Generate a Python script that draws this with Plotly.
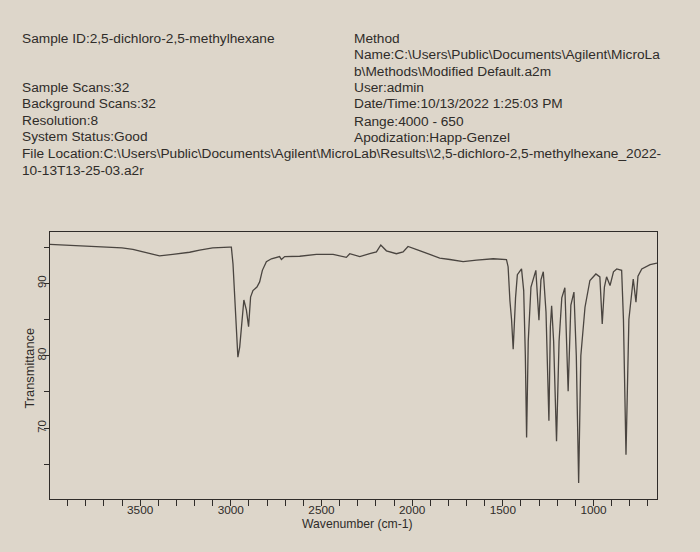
import plotly.graph_objects as go

# Spectrum
wavenumber = [4000, 3900, 3800, 3724, 3651, 3600, 3540, 3448, 3393, 3320, 3227, 3172, 3100, 3007,
              2997, 2988, 2979, 2970, 2961, 2951, 2942, 2928, 2914, 2902, 2891, 2878, 2856, 2841,
              2826, 2804, 2776, 2731, 2721, 2703, 2620, 2528, 2436, 2363, 2344, 2289, 2234, 2197,
              2173, 2142, 2087, 2050, 2023, 1995, 1967, 1903, 1848, 1792, 1719, 1645, 1553, 1480,
              1471, 1461, 1452, 1443, 1430, 1420, 1397, 1385, 1376, 1369, 1360, 1345, 1318, 1301,
              1290, 1277, 1262, 1246, 1238, 1231, 1220, 1204, 1190, 1175, 1158, 1140, 1125, 1108,
              1095, 1082, 1070, 1047, 1020, 987, 965, 952, 940, 928, 909, 890, 872, 845, 835, 821,
              805, 781, 766, 755, 734, 688, 650]
transmittance = [95.4, 95.3, 95.2, 95.1, 95.0, 94.9, 94.7, 94.1, 93.8, 94.0, 94.3, 94.6, 94.9, 95.0,
                 95.0, 92.7, 88.1, 83.5, 79.8, 81.2, 83.5, 87.7, 86.3, 84.0, 88.1, 89.0, 89.5, 90.2,
                 91.8, 93.0, 93.4, 93.7, 93.3, 93.7, 93.75, 94.0, 94.0, 93.6, 94.1, 93.7, 94.1, 94.35,
                 95.3, 94.5, 94.1, 94.35, 95.1, 94.8, 94.6, 94.0, 93.5, 93.3, 93.0, 93.2, 93.4, 93.3,
                 92.3, 87.6, 85.0, 80.9, 88.0, 91.2, 92.0, 89.0, 80.0, 68.7, 82.0, 89.5, 91.8, 84.9,
                 90.5, 91.6, 86.0, 71.0, 84.0, 86.9, 82.0, 68.2, 82.0, 88.0, 89.4, 75.1, 87.0, 88.8,
                 80.0, 62.4, 80.0, 86.7, 90.4, 91.3, 90.9, 84.4, 89.5, 90.9, 89.7, 91.6, 92.0, 91.8, 85.0, 66.3,
                 85.0, 90.6, 87.4, 91.0, 92.0, 92.6, 92.8]

header_left = [
    ("Sample ID:2,5-dichloro-2,5-methylhexane", 38),
    ("Sample Scans:32", 87),
    ("Background Scans:32", 104),
    ("Resolution:8", 120),
    ("System Status:Good", 136),
    ("File Location:C:\\Users\\Public\\Documents\\Agilent\\MicroLab\\Results\\\\2,5-dichloro-2,5-methylhexane_2022-", 153),
    ("10-13T13-25-03.a2r", 170),
]
header_right = [
    ("Method", 38),
    ("Name:C:\\Users\\Public\\Documents\\Agilent\\MicroLa", 55),
    ("b\\Methods\\Modified Default.a2m", 71),
    ("User:admin", 87),
    ("Date/Time:10/13/2022 1:25:03 PM", 104),
    ("Range:4000 - 650", 121),
    ("Apodization:Happ-Genzel", 137),
]
x_title = "Wavenumber (cm-1)"
y_title = "Transmittance"

W, H = 700, 552
L, R, T, B = 50, 43, 232, 53
pw, ph = W - L - R, H - T - B
bg = "#ddd6ca"
ink = "#2f2c29"

fig = go.Figure()
fig.add_trace(go.Scatter(x=wavenumber, y=transmittance, mode="lines",
                         line=dict(color="#4a4540", width=1.3), showlegend=False,
                         hoverinfo="skip"))

def px2paper(px, py):
    return (px - L) / pw, (H - B - py) / ph

anns = []
for txt, py in header_left:
    x, y = px2paper(20, py)
    anns.append(dict(text=txt, x=x, y=y, xref="paper", yref="paper", xanchor="left",
                     yanchor="middle", showarrow=False, font=dict(size=13.7, color=ink)))
for txt, py in header_right:
    x, y = px2paper(352, py)
    anns.append(dict(text=txt, x=x, y=y, xref="paper", yref="paper", xanchor="left",
                     yanchor="middle", showarrow=False, font=dict(size=13.7, color=ink)))
x, y = px2paper(357, 524)
anns.append(dict(text=x_title, x=x, y=y, xref="paper", yref="paper", xanchor="center",
                 yanchor="middle", showarrow=False, font=dict(size=12.2, color=ink)))
x, y = px2paper(28.5, 368)
anns.append(dict(text=y_title, x=x, y=y, xref="paper", yref="paper", xanchor="center",
                 yanchor="middle", showarrow=False, textangle=-90, font=dict(size=12.8, color=ink)))

fig.update_layout(
    width=W, height=H,
    margin=dict(l=L, r=R, t=T, b=B),
    paper_bgcolor=bg, plot_bgcolor=bg,
    font=dict(family="Liberation Sans, Arial, sans-serif", color=ink),
    annotations=anns,
    xaxis=dict(range=[3997, 650], autorange=False, dtick=500, tick0=0,
               ticks="outside", ticklen=6, tickcolor=ink, showgrid=False, zeroline=False,
               showline=True, linecolor=ink, linewidth=1.2, mirror=True,
               tickfont=dict(size=11.8), ticklabelstandoff=-6,
               minor=dict(dtick=100, tick0=0, ticks="outside", ticklen=6, tickcolor=ink)),
    yaxis=dict(range=[60.2, 97.1], autorange=False, dtick=10, tick0=0, tickangle=-90,
               ticks="outside", ticklen=5, tickcolor=ink, showgrid=False, zeroline=False,
               showline=True, linecolor=ink, linewidth=1.2, mirror=True,
               tickfont=dict(size=11.5), ticklabelstandoff=-7,
               minor=dict(dtick=5, tick0=0, ticks="outside", ticklen=5, tickcolor=ink)),
)

fig.write_html("out.html", config={"displayModeBar": False},
               post_script="document.body.style.margin='0';document.body.style.overflow='hidden';")
